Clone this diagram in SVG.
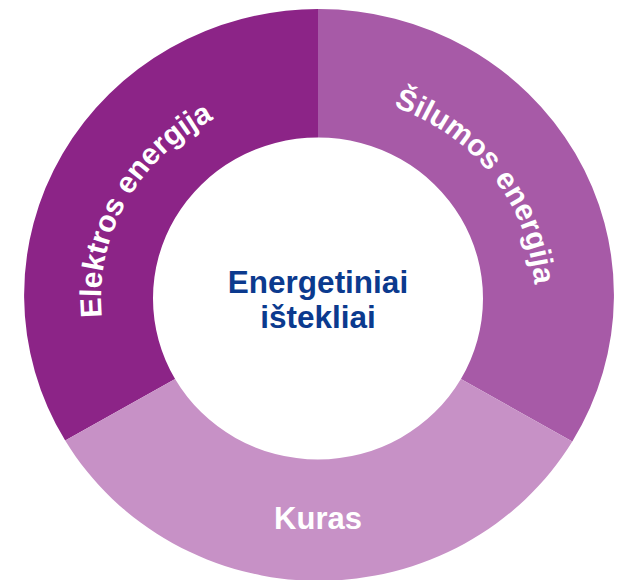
<svg xmlns="http://www.w3.org/2000/svg" xmlns:xlink="http://www.w3.org/1999/xlink" width="619" height="580" viewBox="0 0 619 580">
  <style>
    .lbl { font-family: "Liberation Sans", Arial, sans-serif; font-weight: bold; font-size: 30px; fill: #ffffff; }
    .ctr { font-family: "Liberation Sans", Arial, sans-serif; font-weight: bold; font-size: 31.5px; fill: #0B3A8E; }
  </style>
  <defs>
    <path id="arcElektros" d="M 130.1 400 A 217 204 0 0 1 318 94"/>
    <path id="arcSilumos" d="M 318 94 A 217 204 0 0 1 505.9 400"/>
  </defs>
  <rect width="619" height="580" fill="#ffffff"/>
  <g id="elektros">
    <path d="M 175.1 379 L 65.2 440.6 A 295 286 0 0 1 318 9 L 318 137.5 A 165 161 0 0 0 175.1 379 Z" fill="#8C2487"/>
    <text class="lbl"><textPath xlink:href="#arcElektros" href="#arcElektros" startOffset="88">Elektros energija</textPath></text>
  </g>
  <g id="silumos">
    <path d="M 318 137.5 L 318 9 A 295 286 0 0 1 572.3 441.5 L 460.9 379 A 165 161 0 0 0 318 137.5 Z" fill="#A75AA7"/>
    <text class="lbl"><textPath xlink:href="#arcSilumos" href="#arcSilumos" startOffset="77">Šilumos energija</textPath></text>
  </g>
  <g id="kuras">
    <path d="M 460.9 379 L 572.3 441.5 A 295 286 0 0 1 65.2 440.6 L 175.1 379 A 165 161 0 0 0 460.9 379 Z" fill="#C791C6"/>
    <text class="lbl" x="318" y="529" text-anchor="middle" style="font-size:31px">Kuras</text>
  </g>
  <g id="center">
    <text class="ctr" x="318" y="293" text-anchor="middle">Energetiniai</text>
    <text class="ctr" x="318" y="328" text-anchor="middle">ištekliai</text>
  </g>
  <g id="connectors"/>
</svg>
